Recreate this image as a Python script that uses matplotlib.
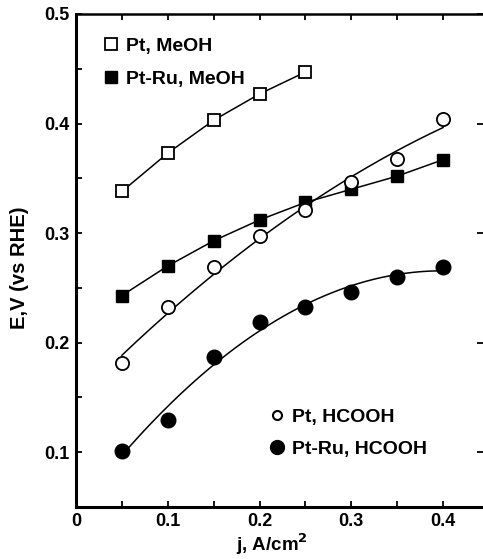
import numpy as np
import matplotlib
matplotlib.use("Agg")
import matplotlib.pyplot as plt
from matplotlib.lines import Line2D
from matplotlib.ticker import FixedLocator

plt.rcParams['font.family'] = ['Liberation Sans', 'DejaVu Sans']
plt.rcParams['font.weight'] = 'bold'

# data
j_pt_meoh = [0.05, 0.10, 0.15, 0.20, 0.25]
e_pt_meoh = [0.338, 0.373, 0.403, 0.427, 0.447]

j_ptru_meoh = [0.05, 0.10, 0.15, 0.20, 0.25, 0.30, 0.35, 0.40]
e_ptru_meoh = [0.243, 0.270, 0.293, 0.312, 0.328, 0.340, 0.352, 0.367]

j_pt_hcooh = [0.05, 0.10, 0.15, 0.20, 0.25, 0.30, 0.35, 0.40]
e_pt_hcooh = [0.181, 0.233, 0.269, 0.297, 0.321, 0.347, 0.368, 0.404]

j_ptru_hcooh = [0.05, 0.10, 0.15, 0.20, 0.25, 0.30, 0.35, 0.40]
e_ptru_hcooh = [0.101, 0.129, 0.187, 0.219, 0.233, 0.246, 0.260, 0.269]

labels = ["Pt, MeOH", "Pt-Ru, MeOH", "Pt, HCOOH", "Pt-Ru, HCOOH"]
xtick_vals = [0, 0.1, 0.2, 0.3, 0.4]
xtick_labels = ["0", "0.1", "0.2", "0.3", "0.4"]
ytick_vals = [0.1, 0.2, 0.3, 0.4, 0.5]
ytick_labels = ["0.1", "0.2", "0.3", "0.4", "0.5"]
xlabel = "j, A/cm$^\\mathbf{2}$"
ylabel = "E,V (vs RHE)"

W, H = 483, 559
fig = plt.figure(figsize=(W / 100, H / 100), dpi=100)
ax = fig.add_axes([76 / W, 52 / H, (W - 76) / W, 493 / H])

lw = 1.1
# MeOH: connected points
ax.plot(j_pt_meoh, e_pt_meoh, '-', color='black', lw=lw, zorder=2)
ax.plot(j_pt_meoh, e_pt_meoh, 's', ms=8.5, mfc='white', mec='black', mew=1.3, zorder=3)
ax.plot(j_ptru_meoh, e_ptru_meoh, '-', color='black', lw=lw, zorder=2)
ax.plot(j_ptru_meoh, e_ptru_meoh, 's', ms=9, mfc='black', mec='black', zorder=3)

# HCOOH: quadratic fits through the points
xs = np.linspace(0.05, 0.40, 200)
c1 = np.polyfit(j_pt_hcooh, e_pt_hcooh, 2)
ax.plot(xs, np.polyval(c1, xs), '-', color='black', lw=lw, zorder=2)
ax.plot(j_pt_hcooh, e_pt_hcooh, 'o', ms=9.5, mfc='white', mec='black', mew=1.3, zorder=3)
c2 = np.polyfit(j_ptru_hcooh, e_ptru_hcooh, 2)
ax.plot(xs, np.polyval(c2, xs), '-', color='black', lw=lw, zorder=2)
ax.plot(j_ptru_hcooh, e_ptru_hcooh, 'o', ms=10.5, mfc='black', mec='black', zorder=3)

ax.set_xlim(0, (W - 76) / 91.75 * 0.1)
ax.set_ylim(0.05, 0.5)

ax.spines['right'].set_visible(False)
ax.spines['left'].set_linewidth(2.2)
ax.spines['bottom'].set_linewidth(2.2)
ax.spines['top'].set_linewidth(1.8)

ax.xaxis.set_major_locator(FixedLocator(xtick_vals))
ax.xaxis.set_minor_locator(FixedLocator([0.05, 0.15, 0.25, 0.35]))
ax.yaxis.set_major_locator(FixedLocator(ytick_vals))
ax.yaxis.set_minor_locator(FixedLocator([0.15, 0.25, 0.35, 0.45]))
ax.set_xticklabels(xtick_labels)
ax.set_yticklabels(ytick_labels)
ax.tick_params(which='both', direction='in', top=True, right=True, length=4, width=1.3,
               labelsize=13, pad=5)
ax.tick_params(axis='x', which='major', pad=4)
ax.tick_params(which='minor', right=False)
for lab in ax.get_xticklabels() + ax.get_yticklabels():
    lab.set_fontweight('bold')

fig.text(20 / W, 1 - 268 / H, ylabel, rotation=90, ha='center', va='center',
         fontsize=14.5, fontweight='bold')
fig.text(272 / W, 2 / H, xlabel, ha='center', va='bottom',
         fontsize=13.5, fontweight='bold')

h1 = [Line2D([], [], ls='none', marker='s', ms=8, mfc='white', mec='black', mew=1.3),
      Line2D([], [], ls='none', marker='s', ms=8.5, mfc='black', mec='black')]
leg1 = ax.legend(h1, labels[:2], loc='upper left', bbox_to_anchor=(103 / W, 1 - 37 / H),
                 bbox_transform=fig.transFigure, frameon=False, handlelength=0.8,
                 handletextpad=0.4, labelspacing=0.8, borderpad=0, borderaxespad=0,
                 prop={'weight': 'bold', 'size': 14})
ax.add_artist(leg1)
h2 = [Line2D([], [], ls='none', marker='o', ms=6.5, mfc='white', mec='black', mew=1.5),
      Line2D([], [], ls='none', marker='o', ms=10, mfc='black', mec='black')]
ax.legend(h2, labels[2:], loc='upper left', bbox_to_anchor=(269 / W, 1 - 408 / H),
          bbox_transform=fig.transFigure, frameon=False, handlelength=0.8,
          handletextpad=0.4, labelspacing=0.75, borderpad=0, borderaxespad=0,
          prop={'weight': 'bold', 'size': 14})

fig.savefig("out.png", dpi=100)
